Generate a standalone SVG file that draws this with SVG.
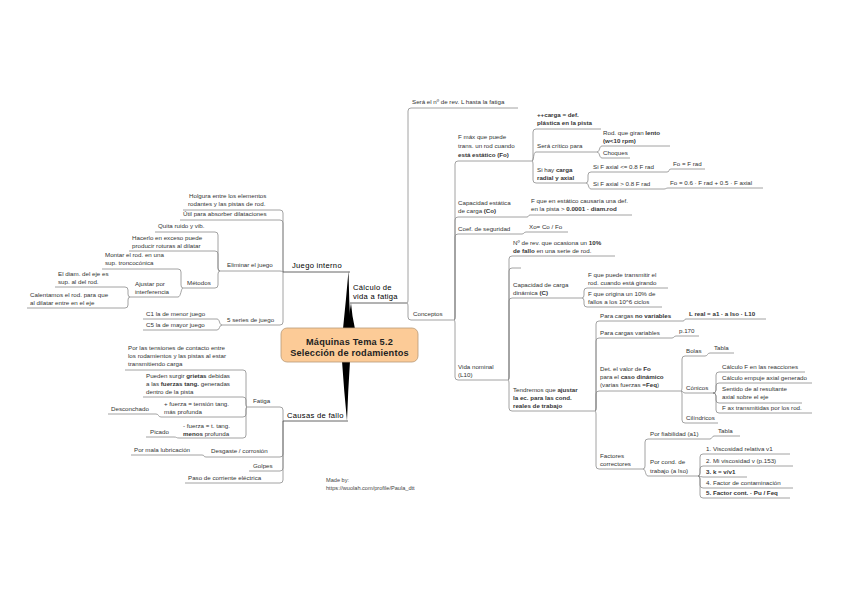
<svg xmlns="http://www.w3.org/2000/svg" width="848" height="599" viewBox="0 0 848 599">
<style>
text{font-family:"Liberation Sans",Arial,sans-serif;font-size:6.2px;fill:#333}
.b{font-weight:bold}
.m{font-size:7.6px;fill:#000;letter-spacing:0.3px}
.ctr{font-size:9.2px;font-weight:bold;fill:#222;letter-spacing:0.2px}
.cr{font-size:5.6px;fill:#444}
.u{fill:none;stroke:#8c8c8c;stroke-width:0.8}
.um{fill:none;stroke:#555;stroke-width:0.9}
.c path{fill:none;stroke:#8c8c8c;stroke-width:0.8}
</style>
<rect width="848" height="599" fill="#fff"/>
<g id="connectors" class="c">
<path d="M283,272 V213 Q283,210 280,210"/>
<path d="M283,272 V223 Q283,220 280,220"/>
<path d="M283,272 Q281.5,271 280,271"/>
<path d="M283,272 V322 Q283,325 280,325"/>
<path d="M220,271 Q218,271 218,268 V235 Q218,232 215,232"/>
<path d="M220,271 Q218,271 218,268 V254 Q218,251 215,251"/>
<path d="M220,271 Q218,271 218,274 V285 Q218,288 215,288"/>
<path d="M183,288 Q181,288 181,285 V272 Q181,269 178,269"/>
<path d="M183,288 C181,288 181,297 178,297"/>
<path d="M130,297 Q128,297 128,294 V290 Q128,287 125,287"/>
<path d="M130,297 Q128,297 128,300 V305 Q128,308 125,308"/>
<path d="M222,325 C219,325 220,319 217,319"/>
<path d="M222,325 C219,325 220,330 217,330"/>
<path d="M283,421 V410 Q283,407 280,407"/>
<path d="M283,421 V454 Q283,457 280,457"/>
<path d="M283,421 V468 Q283,471 280,471"/>
<path d="M283,421 V480 Q283,483 280,483"/>
<path d="M247,407 Q246,407 246,404 V373 Q246,370 243,370"/>
<path d="M247,407 Q246,407 246,404 V400 Q246,397 243,397"/>
<path d="M247,407 Q246,407 246,410 V414 Q246,417 243,417"/>
<path d="M247,407 Q246,407 246,410 V435 Q246,438 243,438"/>
<path d="M161,417 C158,417 159,414 156,414"/>
<path d="M179,438 C176,438 177,437 174,437"/>
<path d="M206,457 C203,457 205,455 202,455"/>
<path d="M407,303 Q408,303 408,300 V111 Q408,108 411,108"/>
<path d="M407,303 Q408,303 408,306 V317 Q408,320 411,320"/>
<path d="M454,320 Q455,320 455,317 V164 Q455,161 458,161"/>
<path d="M454,320 Q455,320 455,317 V220 Q455,217 458,217"/>
<path d="M454,320 Q455,320 455,317 V237 Q455,234 458,234"/>
<path d="M454,320 Q455,320 455,323 V377 Q455,380 458,380"/>
<path d="M532,161 Q533,161 533,158 V132 Q533,129 536,129"/>
<path d="M532,161 C534,161 533,152 536,152"/>
<path d="M532,161 Q533,161 533,164 V180 Q533,183 536,183"/>
<path d="M597,152 C600,152 599,146 602,146"/>
<path d="M597,152 C600,152 599,158 602,158"/>
<path d="M586,183 Q588,183 588,180 V175 Q588,172 591,172"/>
<path d="M586,183 C589,183 588,189 591,189"/>
<path d="M667,172 C670,172 668,169 671,169"/>
<path d="M664,189 C666,189 666,188 668,188"/>
<path d="M527,217 C529,217 528,215 530,215"/>
<path d="M522,234 C524,234 524,232 526,232"/>
<path d="M508,380 Q509,380 509,377 V259 Q509,256 512,256"/>
<path d="M508,380 Q509,380 509,377 V271 Q509,268 512,268"/>
<path d="M508,380 Q509,380 509,377 V301 Q509,298 512,298"/>
<path d="M508,380 Q509,380 509,383 V408 Q509,411 512,411"/>
<path d="M582,298 Q584,298 584,295 V291 Q584,288 587,288"/>
<path d="M582,298 Q584,298 584,301 V304 Q584,307 587,307"/>
<path d="M595,411 Q596,411 596,408 V324 Q596,321 599,321"/>
<path d="M595,411 Q596,411 596,408 V341 Q596,338 599,338"/>
<path d="M595,411 Q596,411 596,408 V394 Q596,391 599,391"/>
<path d="M595,411 Q596,411 596,414 V466 Q596,469 599,469"/>
<path d="M683,321 C685,321 684,319 686,319"/>
<path d="M672,338 C674,338 674,336 676,336"/>
<path d="M681,391 Q682,391 682,388 V359 Q682,356 685,356"/>
<path d="M681,391 C683,391 683,393 685,393"/>
<path d="M681,391 Q682,391 682,394 V420 Q682,423 685,423"/>
<path d="M705,356 C708,356 707,353 710,353"/>
<path d="M713,393 Q716,393 716,390 V375 Q716,372 719,372"/>
<path d="M713,393 Q716,393 716,390 V386 Q716,383 719,383"/>
<path d="M713,393 Q716,393 716,396 V400 Q716,403 719,403"/>
<path d="M713,393 Q716,393 716,396 V410 Q716,413 719,413"/>
<path d="M643,469 Q645,469 645,466 V442 Q645,439 648,439"/>
<path d="M643,469 C646,469 645,476 648,476"/>
<path d="M710,439 C712,439 712,436 714,436"/>
<path d="M698,476 Q700,476 700,473 V457 Q700,454 703,454"/>
<path d="M698,476 Q700,476 700,473 V469 Q700,466 703,466"/>
<path d="M698,476 C700,476 701,477 703,477"/>
<path d="M698,476 Q700,476 700,479 V485 Q700,488 703,488"/>
<path d="M698,476 Q700,476 700,479 V495 Q700,498 703,498"/>
<path style="stroke:none;fill:#000" d="M343,329 Q346,300 348.5,271 Q349,300 350.5,329 Z"/>
<path style="stroke:none;fill:#000" d="M347,329 Q349,316 351,303 Q352,316 355,329 Z"/>
<path style="stroke:none;fill:#000" d="M342,361 Q344,391 347,421 Q348,391 350,361 Z"/>
</g>

<g id="n-center">
<rect x="281" y="328" width="137" height="34" rx="6" fill="#fccb97" stroke="#b89a78" stroke-width="0.8"/>
<text class="ctr" x="349.5" y="344.5" text-anchor="middle">Máquinas Tema 5.2</text>
<text class="ctr" x="349.5" y="356" text-anchor="middle">Selección de rodamientos</text>
</g>
<g id="n-juego"><text class="m" x="292" y="268">Juego interno</text><path class="um" d="M283,272 H350"/></g>
<g id="n-calculo"><text class="m" x="353" y="290">Cálculo de</text><text class="m" x="353" y="299">vida a fatiga</text><path class="um" d="M350,303 H407"/></g>
<g id="n-causas"><text class="m" x="287" y="418">Causas de fallo</text><path class="um" d="M283,421 H348"/></g>

<g id="n-holgura"><text x="189" y="198">Holgura entre los elementos</text><text x="188" y="206">rodantes y las pistas de rod.</text><path class="u" d="M183,210 H280"/></g>
<g id="n-util"><text x="183" y="216">Útil para absorber dilataciones</text><path class="u" d="M180,220 H280"/></g>
<g id="n-eliminar"><text x="227" y="267">Eliminar el juego</text><path class="u" d="M220,271 H280"/></g>
<g id="n-quita"><text x="158" y="228">Quita ruido y vib.</text><path class="u" d="M155,232 H215"/></g>
<g id="n-hacerlo"><text x="132" y="240">Hacerlo en exceso puede</text><text x="132" y="248">producir roturas al dilatar</text><path class="u" d="M129,251 H215"/></g>
<g id="n-metodos"><text x="187" y="285">Métodos</text><path class="u" d="M183,288 H215"/></g>
<g id="n-montar"><text x="105" y="257">Montar el rod. en una</text><text x="105" y="265">sup. troncocónica</text><path class="u" d="M102,269 H178"/></g>
<g id="n-ajustar"><text x="135" y="286">Ajustar por</text><text x="135" y="294">interferencia</text><path class="u" d="M130,297 H178"/></g>
<g id="n-eldiam"><text x="58" y="276">El diam. del eje es</text><text x="58" y="284">sup. al del rod.</text><path class="u" d="M55,287 H125"/></g>
<g id="n-calentamos"><text x="30" y="297">Calentamos el rod. para que</text><text x="30" y="305">al dilatar entre en el eje</text><path class="u" d="M27,308 H125"/></g>
<g id="n-5series"><text x="227" y="322">5 series de juego</text><path class="u" d="M222,325 H280"/></g>
<g id="n-c1"><text x="146" y="316">C1 la de menor juego</text><path class="u" d="M143,319 H217"/></g>
<g id="n-c5"><text x="146" y="327">C5 la de mayor juego</text><path class="u" d="M143,330 H217"/></g>

<g id="n-fatiga"><text x="253" y="403">Fatiga</text><path class="u" d="M247,407 H280"/></g>
<g id="n-tensiones"><text x="128" y="350">Por las tensiones de contacto entre</text><text x="128" y="358">los rodamientos y las pistas al estar</text><text x="128" y="366">transmitiendo carga</text><path class="u" d="M125,370 H243"/></g>
<g id="n-grietas"><text x="146" y="378">Pueden surgir <tspan class="b">grietas</tspan> debidas</text><text x="146" y="386">a las <tspan class="b">fuerzas tang.</tspan> generadas</text><text x="146" y="394">dentro de la pista</text><path class="u" d="M143,397 H243"/></g>
<g id="n-masf"><text x="164" y="406">+ fuerza = tensión tang.</text><text x="164" y="414">más profunda</text><path class="u" d="M161,417 H243"/></g>
<g id="n-desconchado"><text x="111" y="411">Desconchado</text><path class="u" d="M108,414 H156"/></g>
<g id="n-menosf"><text x="183" y="428">- fuerza = t. tang.</text><text x="183" y="436"><tspan class="b">menos</tspan> profunda</text><path class="u" d="M179,438 H243"/></g>
<g id="n-picado"><text x="150" y="434">Picado</text><path class="u" d="M146,437 H174"/></g>
<g id="n-desgaste"><text x="211" y="453">Desgaste / corrosión</text><path class="u" d="M206,457 H280"/></g>
<g id="n-lubric"><text x="134" y="452">Por mala lubricación</text><path class="u" d="M131,455 H202"/></g>
<g id="n-golpes"><text x="253" y="468">Golpes</text><path class="u" d="M249,471 H280"/></g>
<g id="n-paso"><text x="188" y="480">Paso de corriente eléctrica</text><path class="u" d="M185,483 H280"/></g>

<g id="n-sera"><text x="412" y="104">Será el nº de rev. L hasta la fatiga</text><path class="u" d="M411,108 H518"/></g>
<g id="n-conceptos"><text x="413" y="316">Conceptos</text><path class="u" d="M411,320 H454"/></g>
<g id="n-fmax"><text x="458" y="139">F máx que puede</text><text x="458" y="148">trans. un rod cuando</text><text x="458" y="157" class="b">está estático (Fo)</text><path class="u" d="M458,161 H532"/></g>
<g id="n-carga"><text x="537" y="117" class="b">++carga = def.</text><text x="537" y="125" class="b">plástica en la pista</text><path class="u" d="M536,129 H601"/></g>
<g id="n-critico"><text x="537" y="148">Será crítico para</text><path class="u" d="M536,152 H597"/></g>
<g id="n-rod"><text x="603" y="135">Rod. que giran <tspan class="b">lento</tspan></text><text x="603" y="143" class="b">(w&lt;10 rpm)</text><path class="u" d="M602,146 H670"/></g>
<g id="n-choques"><text x="603" y="155">Choques</text><path class="u" d="M602,158 H630"/></g>
<g id="n-sihay"><text x="537" y="172">Si hay <tspan class="b">carga</tspan></text><text x="537" y="180" class="b">radial y axial</text><path class="u" d="M536,183 H586"/></g>
<g id="n-fax1"><text x="593" y="169">Si F axial &lt;= 0.8 F rad</text><path class="u" d="M591,172 H667"/></g>
<g id="n-fo1"><text x="673" y="166">Fo = F rad</text><path class="u" d="M671,169 H705"/></g>
<g id="n-fax2"><text x="593" y="186">Si F axial &gt; 0.8 F rad</text><path class="u" d="M591,189 H664"/></g>
<g id="n-fo2"><text x="670" y="185">Fo = 0.6 · F rad + 0.5 · F axial</text><path class="u" d="M668,188 H763"/></g>
<g id="n-capest"><text x="458" y="205">Capacidad estática</text><text x="458" y="213">de carga <tspan class="b">(Co)</tspan></text><path class="u" d="M458,217 H527"/></g>
<g id="n-fest"><text x="531" y="203">F que en estático causaría una def.</text><text x="531" y="211">en la pista &gt; <tspan class="b">0.0001 · diam.rod</tspan></text><path class="u" d="M530,215 H632"/></g>
<g id="n-coef"><text x="458" y="231">Coef. de seguridad</text><path class="u" d="M458,234 H522"/></g>
<g id="n-xo"><text x="529" y="229">Xo= Co / Fo</text><path class="u" d="M526,232 H568"/></g>
<g id="n-vida"><text x="458" y="369">Vida nominal</text><text x="458" y="377">(L10)</text><path class="u" d="M458,380 H508"/></g>
<g id="n-nrev"><text x="513" y="245">Nº de rev. que ocasiona un <tspan class="b">10%</tspan></text><text x="513" y="253"><tspan class="b">de fallo</tspan> en una serie de rod.</text><path class="u" d="M512,256 H615"/></g>
<g id="n-empty"><path class="u" d="M512,268 H521"/></g>
<g id="n-capdin"><text x="513" y="287">Capacidad de carga</text><text x="513" y="295">dinámica <tspan class="b">(C)</tspan></text><path class="u" d="M512,298 H582"/></g>
<g id="n-fpuede"><text x="588" y="277">F que puede transmitir el</text><text x="588" y="285">rod. cuando está girando</text><path class="u" d="M587,288 H668"/></g>
<g id="n-forigina"><text x="588" y="296">F que origina un 10% de</text><text x="588" y="304">fallos a los 10^6 ciclos</text><path class="u" d="M587,307 H662"/></g>
<g id="n-tendremos"><text x="513" y="392">Tendremos que <tspan class="b">ajustar</tspan></text><text x="513" y="400" class="b">la ec. para las cond.</text><text x="513" y="408" class="b">reales de trabajo</text><path class="u" d="M512,411 H595"/></g>
<g id="n-novar"><text x="600" y="318">Para cargas <tspan class="b">no variables</tspan></text><path class="u" d="M599,321 H683"/></g>
<g id="n-lreal"><text x="689" y="316" class="b">L real = a1 · a Iso · L10</text><path class="u" d="M686,319 H766"/></g>
<g id="n-var"><text x="600" y="335">Para cargas variables</text><path class="u" d="M599,338 H672"/></g>
<g id="n-p170"><text x="679" y="333">p.170</text><path class="u" d="M676,336 H699"/></g>
<g id="n-det"><text x="600" y="371">Det. el valor de <tspan class="b">Fo</tspan></text><text x="600" y="379">para el <tspan class="b">caso dinámico</tspan></text><text x="600" y="387">(varias fuerzas <tspan class="b">=Feq</tspan>)</text><path class="u" d="M599,391 H681"/></g>
<g id="n-bolas"><text x="686" y="353">Bolas</text><path class="u" d="M685,356 H705"/></g>
<g id="n-tabla1"><text x="714" y="350">Tabla</text><path class="u" d="M710,353 H734"/></g>
<g id="n-conicos"><text x="686" y="390">Cónicos</text><path class="u" d="M685,393 H713"/></g>
<g id="n-calcf"><text x="722" y="369">Cálculo F en las reacciones</text><path class="u" d="M719,372 H805"/></g>
<g id="n-empuje"><text x="722" y="380">Cálculo empuje axial generado</text><path class="u" d="M719,383 H812"/></g>
<g id="n-sentido"><text x="722" y="391">Sentido de al resultante</text><text x="722" y="399">axial sobre el eje</text><path class="u" d="M719,403 H802"/></g>
<g id="n-fax"><text x="722" y="410">F ax transmitidas por los rod.</text><path class="u" d="M719,413 H812"/></g>
<g id="n-cilindricos"><text x="686" y="420">Cilíndricos</text><path class="u" d="M685,423 H718"/></g>
<g id="n-factores"><text x="600" y="458">Factores</text><text x="600" y="466">correctores</text><path class="u" d="M599,469 H643"/></g>
<g id="n-fiab"><text x="650" y="436">Por fiabilidad (a1)</text><path class="u" d="M648,439 H710"/></g>
<g id="n-tabla2"><text x="718" y="433">Tabla</text><path class="u" d="M714,436 H740"/></g>
<g id="n-cond"><text x="650" y="464">Por cond. de</text><text x="650" y="473">trabajo (a Iso)</text><path class="u" d="M648,476 H698"/></g>
<g id="n-v1"><text x="706" y="451">1. Viscosidad relativa v1</text><path class="u" d="M703,454 H790"/></g>
<g id="n-v2"><text x="706" y="463">2. Mi viscosidad v (p.153)</text><path class="u" d="M703,466 H793"/></g>
<g id="n-k"><text x="706" y="474" class="b">3. k = v/v1</text><path class="u" d="M703,477 H747"/></g>
<g id="n-fc"><text x="706" y="485">4. Factor de contaminación</text><path class="u" d="M703,488 H793"/></g>
<g id="n-fc5"><text x="706" y="495" class="b">5. Factor cont. · Pu / Feq</text><path class="u" d="M703,498 H790"/></g>

<g id="credit"><text class="cr" x="326" y="482">Made by:</text><text class="cr" x="326" y="490">https://wuolah.com/profile/Paula_dtt</text></g>
</svg>
